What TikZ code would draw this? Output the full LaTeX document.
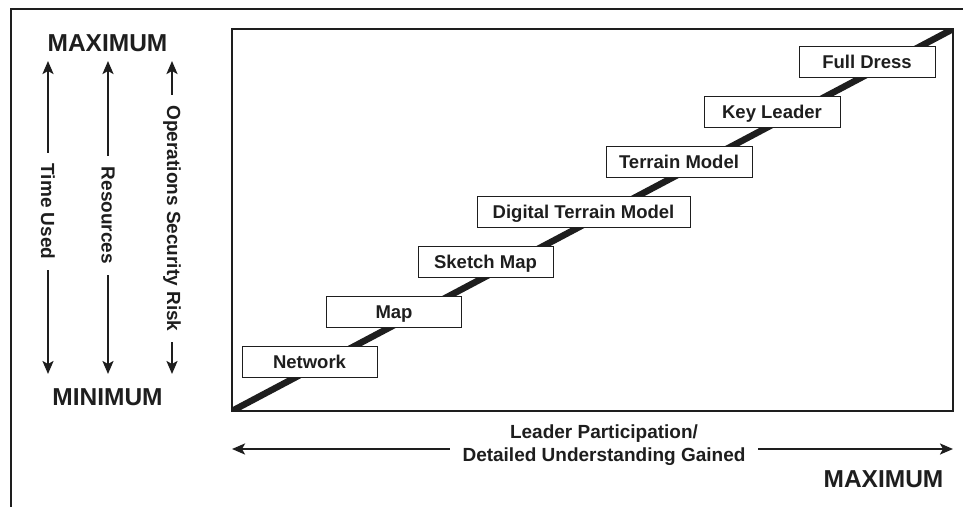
\documentclass[tikz,border=0pt]{standalone}
\usepackage{fontspec}
\setmainfont{Liberation Sans}
\usetikzlibrary{arrows.meta}
\definecolor{ink}{HTML}{1E1E1E}
\begin{document}
\begin{tikzpicture}[x=1pt,y=-1pt,
  frame/.style={draw=ink, line width=2pt},
  stagebox/.style={draw=ink, line width=0.9pt, fill=white, minimum height=31pt,
    inner sep=0pt, text height=13.3pt, text depth=0pt, text=ink,
    font=\bfseries\fontsize{18.5}{20}\selectfont},
  biglabel/.style={text=ink, inner sep=0pt, text height=17.5pt, text depth=0pt,
    font=\bfseries\fontsize{24.5}{26}\selectfont},
  vlabel/.style={text=ink, fill=white, rotate=-90, inner xsep=11pt, inner ysep=1pt,
    font=\bfseries\fontsize{19}{21}\selectfont},
  hlabel/.style={text=ink, fill=white, align=center, inner xsep=13pt, inner ysep=1pt,
    font=\bfseries\fontsize{19}{23}\selectfont},
  dblarrow/.style={draw=ink, line width=2.3pt,
    {Stealth[length=13pt,width=11pt,inset=3pt]}-{Stealth[length=13pt,width=11pt,inset=3pt]}}
]
\useasboundingbox (0,0) rectangle (963,506);

% outer frame (open at right and bottom)
\coordinate (ofb) at (10.5,507);
\coordinate (oftl) at (10.5,9);
\coordinate (ofr) at (964,9);
\draw[frame] (ofb) -- (oftl) -- (ofr);

% inner chart box
\coordinate (bl) at (232,411);
\coordinate (tr) at (953,29);
\begin{scope}
  \clip (bl) rectangle (tr);
  \draw[ink, line width=6.5pt] (bl) -- (tr);
\end{scope}
\draw[draw=ink, line width=2.4pt] (bl) rectangle (tr);

% stages
\node[stagebox, minimum width=135pt] (net) at (309.5,361.5) {Network};
\node[stagebox, minimum width=135pt] (map) at (394,311.5) {Map};
\node[stagebox, minimum width=135pt] (sketch) at (485.5,261.5) {Sketch Map};
\node[stagebox, minimum width=213pt] (dtm) at (583.5,211.5) {Digital Terrain Model};
\node[stagebox, minimum width=146pt] (terr) at (679,161.5) {Terrain Model};
\node[stagebox, minimum width=136pt] (key) at (772,111.5) {Key Leader};
\node[stagebox, minimum width=136pt] (full) at (867,61.5) {Full Dress};

% left scale
\node[biglabel] (lmax) at (107.5,42.5) {MAXIMUM};
\node[biglabel] (lmin) at (107.5,397) {MINIMUM};

\coordinate (a1t) at (48,61);   \coordinate (a1b) at (48,374);
\coordinate (a2t) at (108,61);  \coordinate (a2b) at (108,374);
\coordinate (a3t) at (172,61);  \coordinate (a3b) at (172,374);
\draw[dblarrow] (a1t) -- (a1b);
\draw[dblarrow] (a2t) -- (a2b);
\draw[dblarrow] (a3t) -- (a3b);
\node[vlabel] (time) at (48,211.5) {Time Used};
\node[vlabel] (res) at (108,215.5) {Resources};
\node[vlabel] (ops) at (172,218.5) {Operations Security Risk};

% bottom scale
\coordinate (hl) at (232,449);
\coordinate (hr) at (953,449);
\draw[dblarrow] (hl) -- (hr);
\node[hlabel] (lead) at (604,445) {Leader Participation/\\Detailed Understanding Gained};
\node[biglabel] (bmax) at (883.5,478.5) {MAXIMUM};
\end{tikzpicture}
\end{document}
